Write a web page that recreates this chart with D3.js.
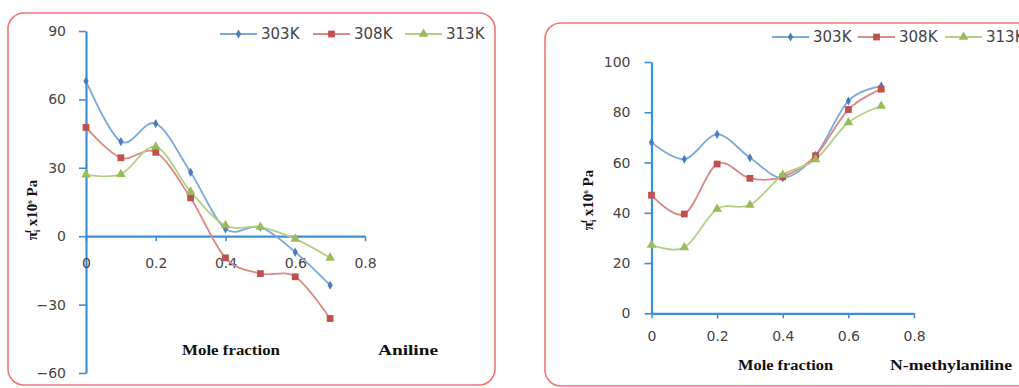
<!DOCTYPE html>
<html><head><meta charset="utf-8">
<script src="https://cdn.jsdelivr.net/npm/d3@7"></script>
<style>
html,body{margin:0;padding:0;background:#fff;}
svg{display:block;}
</style></head>
<body>
<svg id="c" width="1019" height="388"></svg>
<script>
// ---------- data ----------
const moleFraction = [0, 0.1, 0.2, 0.3, 0.4, 0.5, 0.6, 0.7];
const seriesNames = ["303K", "308K", "313K"];

const aniline303 = [68, 41.5, 49.4, 28, 3.2, 4, -7, -21.5];
const aniline308 = [47.7, 34.4, 36.8, 16.8, -9.5, -16.4, -17.8, -36.1];
const aniline313 = [27, 27.2, 39.2, 19.5, 4.7, 4, -1.2, -9.5];

const nma303 = [68, 61.3, 71.2, 61.9, 53.9, 62.9, 84.5, 90.4];
const nma308 = [47, 39.5, 59.4, 53.7, 54.3, 62.7, 81.1, 89.2];
const nma313 = [27.2, 26.2, 41.5, 43.1, 55, 61.2, 75.9, 82.5];

const xTicks = [0, 0.2, 0.4, 0.6, 0.8];
const xTickLabels = ["0", "0.2", "0.4", "0.6", "0.8"];
const yTicksLeft = [-60, -30, 0, 30, 60, 90];
const yTicksRight = [0, 20, 40, 60, 80, 100];

// ---------- styles ----------
const lineColors = ["#7fa8da", "#d98b89", "#b3cf85"];
const markColors = ["#4a7ebb", "#c0504d", "#9bbb59"];
const markShapes = [d3.symbolDiamond, d3.symbolSquare, d3.symbolTriangle];
const markSizes = [24, 46, 40];
const axisColor = "#3c8fd9";
const tickFont = "DejaVu Sans, Verdana, sans-serif";
const serif = "Liberation Serif, Times New Roman, serif";

const svg = d3.select("#c");

function panel(cfg) {
  // border
  svg.append("rect").attr("x", cfg.box[0]).attr("y", cfg.box[1])
    .attr("width", cfg.box[2]).attr("height", cfg.box[3])
    .attr("rx", 16).attr("ry", 16)
    .attr("fill", "none").attr("stroke", "#f47474").attr("stroke-width", 1.6);

  const x = d3.scaleLinear().domain([0, 0.8]).range(cfg.xr);
  const y = d3.scaleLinear().domain(cfg.yd).range(cfg.yr);

  // y axis
  const ya = svg.append("g").attr("transform", `translate(${cfg.xr[0]},0)`)
    .call(d3.axisLeft(y).tickValues(cfg.yTicks).tickSize(7).tickPadding(cfg.yPad).tickSizeOuter(0));
  ya.select(".domain").attr("stroke", axisColor).attr("stroke-width", 2.2);
  ya.selectAll(".tick line").attr("stroke", axisColor).attr("stroke-width", 1.6);
  ya.selectAll(".tick text").attr("fill", "#444").attr("font-size", 14).attr("font-family", tickFont);

  // x axis at y=0
  const xa = svg.append("g").attr("transform", `translate(0,${y(0)})`)
    .call(d3.axisBottom(x).tickValues(xTicks).tickFormat((d, i) => xTickLabels[i])
      .tickSize(5).tickPadding(cfg.xPad).tickSizeOuter(0));
  xa.select(".domain").attr("stroke", axisColor).attr("stroke-width", 2.2);
  xa.selectAll(".tick line").attr("stroke", axisColor).attr("stroke-width", 1.6);
  xa.selectAll(".tick text").attr("fill", "#444").attr("font-size", 14).attr("font-family", tickFont);

  // series
  const line = d3.line().x((d, i) => x(moleFraction[i])).y(d => y(d)).curve(d3.curveCardinal);
  cfg.series.forEach((vals, s) => {
    svg.append("path").attr("d", line(vals)).attr("fill", "none")
      .attr("stroke", lineColors[s]).attr("stroke-width", 1.8);
  });
  cfg.series.forEach((vals, s) => {
    svg.append("g").selectAll("path").data(vals).join("path")
      .attr("transform", (d, i) => `translate(${x(moleFraction[i])},${y(d)})`)
      .attr("d", d3.symbol().type(markShapes[s]).size(markSizes[s]))
      .attr("fill", markColors[s]);
  });

  // legend
  cfg.legendX.forEach((lx, s) => {
    const g = svg.append("g").attr("transform", `translate(${lx},${cfg.legendY})`);
    g.append("line").attr("x1", 0).attr("x2", 37).attr("stroke", lineColors[s]).attr("stroke-width", 1.8);
    g.append("path").attr("transform", "translate(18.5,0)")
      .attr("d", d3.symbol().type(markShapes[s]).size(markSizes[s])).attr("fill", markColors[s]);
    g.append("text").attr("x", 41).attr("y", 5).text(seriesNames[s])
      .attr("font-family", tickFont).attr("font-size", 15).attr("fill", "#444");
  });

  // y label
  const yl = svg.append("text")
    .attr("transform", `translate(${cfg.ylab[0]},${cfg.ylab[1]}) rotate(-90)`)
    .attr("text-anchor", "middle").attr("font-family", serif).attr("font-weight", "bold")
    .attr("font-size", 15).attr("fill", "#111");
  yl.append("tspan").text("π");
  yl.append("tspan").attr("font-size", 8).attr("dy", 3).text("i");
  yl.append("tspan").attr("font-size", 8).attr("dy", -9).attr("dx", -3).text("f");
  yl.append("tspan").attr("dy", 6).text(" x10");
  yl.append("tspan").attr("font-size", 7).attr("dy", -5).text("6");
  yl.append("tspan").attr("dy", 5).text(" Pa");

  // x labels
  svg.append("text").attr("x", cfg.mole[0]).attr("y", cfg.mole[1])
    .attr("font-family", serif).attr("font-weight", "bold").attr("font-size", 14)
    .attr("textLength", cfg.mole[2]).attr("lengthAdjust", "spacingAndGlyphs")
    .attr("fill", "#111").text("Mole fraction");
  svg.append("text").attr("x", cfg.comp[0]).attr("y", cfg.comp[1])
    .attr("font-family", serif).attr("font-weight", "bold").attr("font-size", 14)
    .attr("textLength", cfg.comp[2]).attr("lengthAdjust", "spacingAndGlyphs")
    .attr("fill", "#111").text(cfg.compName);
}

panel({
  box: [8, 13, 487, 372],
  xr: [86, 365], yd: [-60, 90], yr: [373, 31],
  yTicks: yTicksLeft, yPad: 13, xPad: 17,
  series: [aniline303, aniline308, aniline313],
  legendX: [220, 313, 405], legendY: 34,
  ylab: [37, 210],
  mole: [182, 355, 98], comp: [378, 355, 60], compName: "Aniline"
});

panel({
  box: [545, 23, 500, 363],
  xr: [651.5, 914], yd: [0, 100], yr: [313.3, 62],
  yTicks: yTicksRight, yPad: 14, xPad: 13,
  series: [nma303, nma308, nma313],
  legendX: [772, 858, 945], legendY: 37,
  ylab: [593, 200],
  mole: [738, 370, 95], comp: [890, 370, 122], compName: "N-methylaniline"
});
</script>
</body></html>
